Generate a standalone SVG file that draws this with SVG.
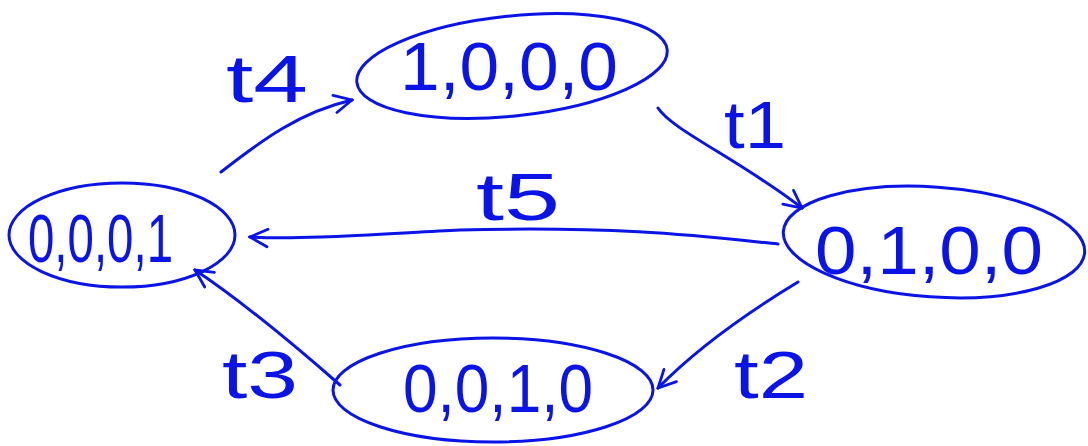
<svg xmlns="http://www.w3.org/2000/svg" width="1088" height="446" viewBox="0 0 1088 446">
<style>
.node{fill:none;stroke:#0a14e6;stroke-width:3}
.lbl{fill:#0a14e6;font-family:"Liberation Sans Narrow","Liberation Sans","DejaVu Sans",sans-serif;font-size:68px}
.tl{fill:#0a14e6;font-family:"Liberation Sans Narrow","Liberation Sans","DejaVu Sans",sans-serif;font-size:66px}
.edge{fill:none;stroke:#0a14e6;stroke-width:3;stroke-linecap:round}
</style>
<defs>
<marker id="ah" viewBox="0 0 12 12" refX="11" refY="6" markerWidth="7" markerHeight="7" markerUnits="strokeWidth" orient="auto">
<path d="M1,1 L11,6 L1,11" fill="none" stroke="#0a14e6" stroke-width="1.6" stroke-linecap="round"/>
</marker>
</defs>
<rect width="1088" height="446" fill="#ffffff"/>
<g id="connectors">
<path class="edge" marker-end="url(#ah)" d="M221,172 C262,140 300,112 352,100"/>
<path class="edge" marker-end="url(#ah)" d="M658,108 C672,130 740,160 802,208"/>
<path class="edge" marker-end="url(#ah)" d="M778,244 C700,236 620,226 460,230 C380,234 300,240 250,237"/>
<path class="edge" marker-end="url(#ah)" d="M798,282 C760,305 700,345 658,388"/>
<path class="edge" marker-end="url(#ah)" d="M340,385 C300,350 240,300 195,270"/>
<text class="tl" x="226" y="102" textLength="82" lengthAdjust="spacingAndGlyphs">t4</text>
<text class="tl" x="724" y="148" textLength="62" lengthAdjust="spacingAndGlyphs">t1</text>
<text class="tl" x="476" y="220" textLength="84" lengthAdjust="spacingAndGlyphs">t5</text>
<text class="tl" x="734" y="398" textLength="74" lengthAdjust="spacingAndGlyphs">t2</text>
<text class="tl" x="222" y="398" textLength="76" lengthAdjust="spacingAndGlyphs">t3</text>
</g>
<g id="n0001">
<ellipse class="node" cx="122" cy="235" rx="113" ry="52"/>
<text class="lbl" x="28" y="262" textLength="145" lengthAdjust="spacingAndGlyphs">0,0,0,1</text>
</g>
<g id="n1000">
<ellipse class="node" cx="512" cy="66" rx="156" ry="50" transform="rotate(-6 512 66)"/>
<text class="lbl" x="400" y="90" textLength="218" lengthAdjust="spacingAndGlyphs">1,0,0,0</text>
</g>
<g id="n0100">
<ellipse class="node" cx="934" cy="242" rx="151" ry="55" transform="rotate(4 934 242)"/>
<text class="lbl" x="815" y="274" textLength="228" lengthAdjust="spacingAndGlyphs">0,1,0,0</text>
</g>
<g id="n0010">
<ellipse class="node" cx="493" cy="390" rx="160" ry="52"/>
<text class="lbl" x="403" y="412" textLength="190" lengthAdjust="spacingAndGlyphs">0,0,1,0</text>
</g>
</svg>
